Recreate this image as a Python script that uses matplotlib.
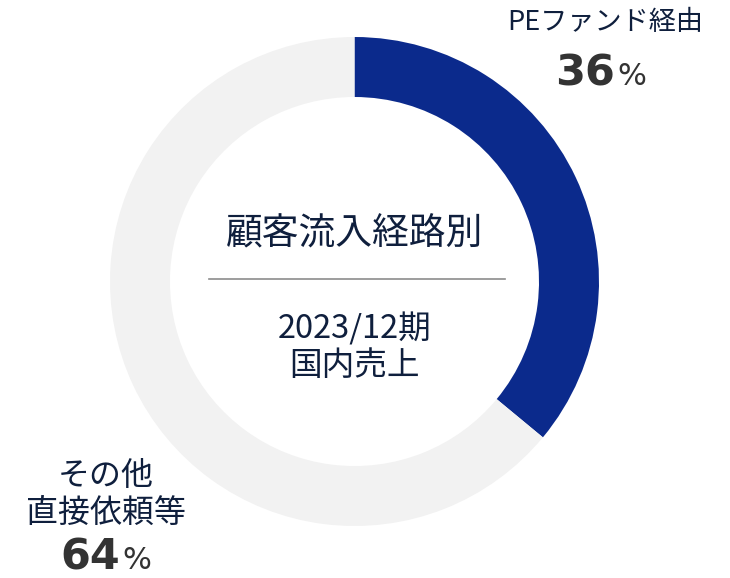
import matplotlib
matplotlib.use('Agg')
import matplotlib.pyplot as plt

plt.rcParams['font.family'] = ['Noto Sans CJK JP', 'DejaVu Sans']

labels = ['PEファンド経由', 'その他\n直接依頼等']
shares = [36, 64]
colors = ['#0B2A8C', '#F2F2F2']
title = '顧客流入経路別'
subtitle = '2023/12期\n国内売上'

W, H = 730, 578
cx, cy = 354.5, H - 281.5
r_out, ring = 244.5, 60

fig = plt.figure(figsize=(W / 100, H / 100), dpi=100)
ax = fig.add_axes([0, 0, 1, 1])

ax.pie(shares, colors=colors, startangle=90, counterclock=False,
       center=(cx, cy), radius=r_out,
       wedgeprops=dict(width=ring, linewidth=0))
ax.set_xlim(0, W)
ax.set_ylim(0, H)
ax.set_aspect('equal')
ax.axis('off')

txt = '#0F1F3D'
num = '#333333'

# center block
ax.text(cx, H - 234, title, ha='center', va='center', fontsize=26.5, color=txt)
ax.plot([209, 505], [H - 279, H - 279], color='#8C8C8C', lw=1.2)
ax.text(cx, H - 347, subtitle, ha='center', va='center', fontsize=23.5,
        color=txt, linespacing=1.2)

# outside labels
ax.text(605, H - 23, labels[0], ha='center', va='center', fontsize=19.5, color=txt)
ax.text(615, H - 85, str(shares[0]), ha='right', va='baseline', fontsize=31,
        fontweight='bold', color=num, family='DejaVu Sans')
ax.text(617, H - 85, '%', ha='left', va='baseline', fontsize=22,
        color=num, family='DejaVu Sans')

ax.text(106, H - 494, labels[1], ha='center', va='center', fontsize=23,
        color=txt, linespacing=1.2)
ax.text(120, H - 569, str(shares[1]), ha='right', va='baseline', fontsize=31,
        fontweight='bold', color=num, family='DejaVu Sans')
ax.text(122, H - 569, '%', ha='left', va='baseline', fontsize=22,
        color=num, family='DejaVu Sans')

fig.savefig('out.png', dpi=100)
